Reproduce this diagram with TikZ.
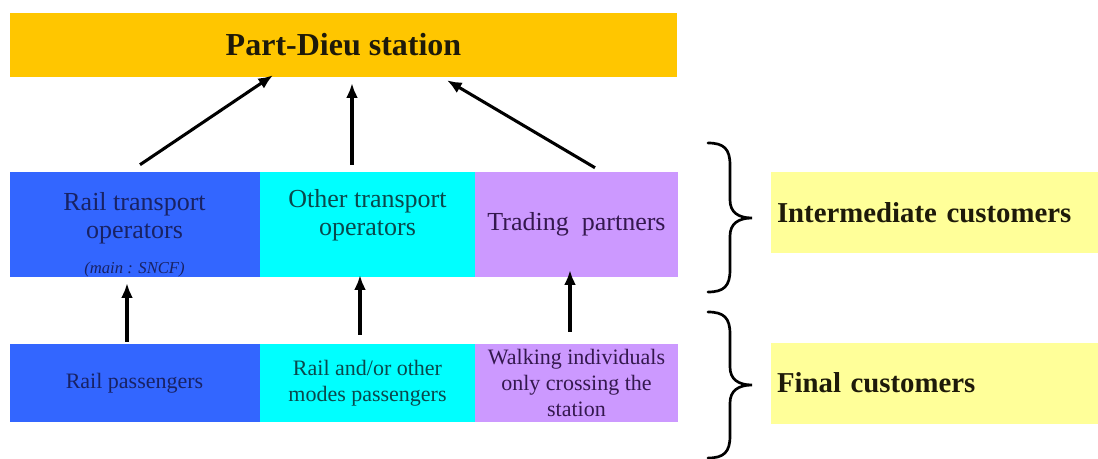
\documentclass[tikz,border=0pt]{standalone}
\usepackage{fontspec}
\setmainfont{Liberation Serif}
\usetikzlibrary{positioning,arrows.meta,calc}
\definecolor{pdgold}{RGB}{255,198,0}
\definecolor{pdblue}{RGB}{51,102,255}
\definecolor{pdcyan}{RGB}{0,255,255}
\definecolor{pdlilac}{RGB}{204,153,255}
\definecolor{pdlabel}{RGB}{255,255,153}
\definecolor{pdnavy}{RGB}{24,34,100}
\definecolor{pdteal}{RGB}{10,72,76}
\definecolor{pdplum}{RGB}{52,24,78}
\definecolor{pdink}{RGB}{30,26,10}

\begin{document}
\begin{tikzpicture}[x=0.75pt, y=-0.75pt,
  cell/.style={inner sep=0pt, align=center},
  big/.style={font=\fontsize{19.5}{21}\selectfont},
  small/.style={font=\fontsize{16.5}{19.5}\selectfont},
  flow/.style={line width=2.3pt, -{Latex[length=11pt,width=9pt]}},
  curly/.style={line width=2pt, line cap=round},
  tag/.style={fill=pdlabel, inner xsep=4.5pt, inner ysep=0pt, minimum height=60.75pt,
    text width=236.25pt, align=left, font=\fontsize{21.6}{25}\selectfont\bfseries, text=pdink}]
\useasboundingbox (0,0) rectangle (1098,459);

% ================= station =================
\node[cell, fill=pdgold, minimum width=500.25pt, minimum height=48pt,
  font=\fontsize{24}{28}\selectfont\bfseries, text=pdink] (station) at (343.5,45) {Part-Dieu station};

% ================= intermediate customers =================
\node[cell, fill=pdblue,  minimum width=187.5pt,  minimum height=78.75pt] (railop)  at (134.5,224.5) {};
\node[cell, fill=pdcyan,  minimum width=161.25pt, minimum height=78.75pt] (otherop) at (367.5,224.5) {};
\node[cell, fill=pdlilac, minimum width=152.25pt, minimum height=78.75pt, big, text=pdplum]
  (trading) at (576.5,224.5) {Trading\ \ partners};
\node[cell, big, text=pdnavy] (railoptxt)  at (134.5,218) {Rail transport\\operators};
\node[cell, font=\fontsize{12.5}{14}\selectfont\itshape, text=pdnavy] (sncf) at (134.5,269) {(main : SNCF)};
\node[cell, big, text=pdteal] (otheroptxt) at (367.5,215.5) {Other transport\\operators};

% ================= final customers =================
\node[cell, fill=pdblue,  minimum width=187.5pt,  minimum height=58.5pt, small, text=pdnavy]
  (railpass)  at (134.5,383) {Rail passengers};
\node[cell, fill=pdcyan,  minimum width=161.25pt, minimum height=58.5pt, small, text=pdteal]
  (modespass) at (367.5,383) {Rail and/or other\\modes passengers};
\node[cell, fill=pdlilac, minimum width=152.25pt, minimum height=58.5pt, small, text=pdplum]
  (walking)   at (576.5,383) {Walking individuals\\only crossing the\\station};

% ================= flows =================
\draw[flow] ($(railop.north)+(5.5,-7)$)   -- ($(station.south)+(-70.5,-2)$);
\draw[flow] ($(otherop.north)+(-15.5,-7)$) -- ($(station.south)+(8.5,6)$);
\draw[flow] ($(trading.north)+(18.5,-4)$) -- ($(station.south)+(103.5,3)$);
\foreach \src/\dst/\dx/\ya/\yb in {railpass/railop/-7.5/-2/6,
                                   modespass/otherop/-7.5/-9/-2,
                                   walking/trading/-6.5/-12/-7}
  \draw[flow] ($(\src.north)+(\dx,\ya)$) -- ($(\dst.south)+(\dx,\yb)$);

% ================= braces and labels =================
% top / tip / bottom of each brace, in px
\foreach \t/\m/\b in {143/218/292, 312/385/458}
  \draw[curly] (708,\t) .. controls (724,\t) and (730,{\t+6}) .. (730,{\t+22})
    -- (730,{\m-18}) .. controls (730,{\m-6}) and (738,\m) .. (752,\m)
    .. controls (738,\m) and (730,{\m+6}) .. (730,{\m+18})
    -- (730,{\b-22}) .. controls (730,{\b-6}) and (724,\b) .. (708,\b);
\node[tag] (interlbl) at (934.5,212.5) {Intermediate customers};
\node[tag] (finallbl) at (934.5,383)   {Final customers};
\end{tikzpicture}
\end{document}
